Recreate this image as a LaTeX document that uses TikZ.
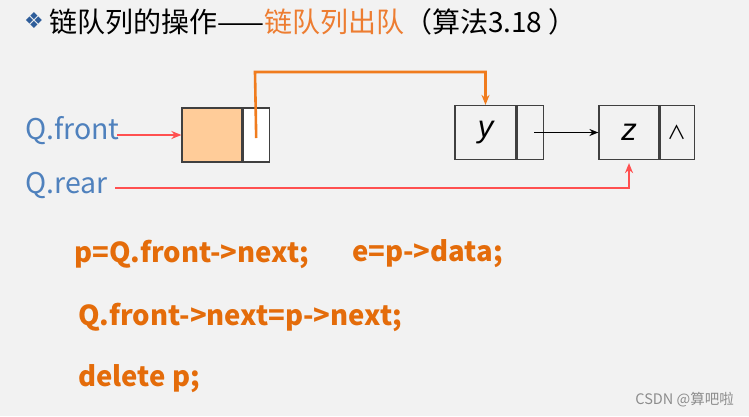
\documentclass[tikz,border=0pt]{standalone}
\usepackage{fontspec}
\setmainfont{Noto Sans CJK SC}
\newfontfamily\symfont{DejaVu Sans}
\newfontfamily\varfont{Liberation Sans}
\usetikzlibrary{arrows.meta,positioning}
\definecolor{bgc}{HTML}{F2F2F2}
\definecolor{ttlorange}{HTML}{ED7D31}
\definecolor{codeorange}{HTML}{E46C0A}
\definecolor{lineorange}{HTML}{F07C1E}
\definecolor{cellfill}{HTML}{FFCC99}
\definecolor{qblue}{HTML}{4F81BD}
\definecolor{ptrred}{HTML}{FF5050}
\definecolor{icon}{HTML}{2E5D9A}

\begin{document}
\begin{tikzpicture}[x=1pt, y=-1pt,
    every node/.style={inner sep=0pt},
    cell/.style={rectangle, draw=black!75, line width=1.2pt, minimum height=54pt},
    qlbl/.style={font=\fontsize{28.5}{32}\selectfont, text=qblue, anchor=west},
    code/.style={font=\fontsize{27.5}{31}\selectfont\bfseries, text=codeorange, anchor=west},
    re/.style={draw=ptrred, line width=2.2pt, -{Stealth[length=10pt, width=8pt]}},
    oe/.style={draw=lineorange, line width=2.6pt, -{Stealth[length=10pt, width=8pt]}},
    be/.style={draw=black, line width=1.5pt, -{Stealth[length=9pt, width=7pt]}},
  ]
  \fill[bgc] (0,0) rectangle (749,416);
  \useasboundingbox (0,0) rectangle (749,416);
  % title
  \node[anchor=west, font=\fontsize{22}{26}\selectfont, text=icon] (icn) at (24,21) {\symfont ❖};
  \node[anchor=west, font=\fontsize{28}{31}\selectfont] (title) at (49,22)
    {链队列的操作——{\color{ttlorange}链队列出队}（算法3.18 ）};
  % head node
  \node[cell, minimum width=60pt, fill=cellfill] (hd) at (212,135) {};
  \node[cell, minimum width=26pt, fill=white, right=0pt of hd] (hp) {};
  % node y
  \node[cell, minimum width=61pt] (yd) at (485.5,132.5) {\varfont\fontsize{31}{34}\selectfont\itshape y};
  \node[cell, minimum width=26pt, right=0pt of yd] (yp) {};
  % node z
  \node[cell, minimum width=60pt] (zd) at (629,132.5) {\varfont\fontsize{31}{34}\selectfont\itshape z};
  \node[cell, minimum width=34pt, right=0pt of zd] (zp) {\fontsize{19}{22}\selectfont ∧};
  % pointers
  \node[qlbl] (front) at (25,131) {Q.front};
  \node[qlbl] (rear) at (25,185) {Q.rear};
  \coordinate (fs) at (117,135);
  \coordinate (rs) at (115,188);
  \coordinate (top) at (255,72);
  \draw[re] (fs) -- (hd.west);
  \draw[re, shorten >=3pt] (rs) -| (zd.south);
  \draw[oe] ([yshift=-3pt]hp.center) -- (top) -| (yd.north);
  \draw[be] ([xshift=4pt]yp.center) -- (zd.west);
  % code
  \node[code] (c1) at (74,254) {p=Q.front->next;};
  \node[code] (c2) at (352,254) {e=p->data;};
  \node[code] (c3) at (78,317) {Q.front->next=p->next;};
  \node[code] (c4) at (78,379) {delete p;};
  % watermark
  \node[anchor=east, font=\fontsize{14.5}{17}\selectfont, text=black!45] (wm) at (734,400) {CSDN @算吧啦};
\end{tikzpicture}
\end{document}
